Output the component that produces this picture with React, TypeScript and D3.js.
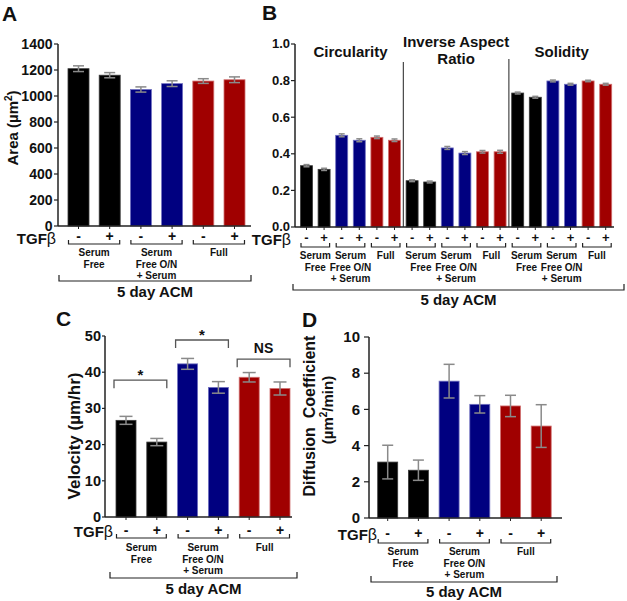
import React from "react";
import * as d3 from "d3";

const FONT = "'Liberation Sans', Arial, Helvetica, sans-serif";

// ---------- data ----------
const treatments = ["-", "+", "-", "+", "-", "+"];
const conditionLabels = [["Serum", "Free"], ["Serum", "Free O/N", "+ Serum"], ["Full"]];
const barColors = ["#000000", "#000000", "#000080", "#000080", "#a00000", "#a00000"];
const barEdges = ["#3a3a3a", "#3a3a3a", "#7070c0", "#7070c0", "#d07070", "#d07070"];

const areaTicks = [0, 200, 400, 600, 800, 1000, 1200, 1400];
const areaValues = [1210, 1160, 1050, 1095, 1115, 1125];
const areaErrors = [22, 20, 20, 22, 18, 22];

const shapeTitles = [["Circularity"], ["Inverse Aspect", "Ratio"], ["Solidity"]];
const shapeTicks = [0, 0.2, 0.4, 0.6, 0.8, 1.0];
const circularityValues = [0.335, 0.315, 0.501, 0.474, 0.49, 0.474];
const circularityErrors = [0.006, 0.006, 0.008, 0.008, 0.007, 0.007];
const inverseAspectValues = [0.253, 0.246, 0.432, 0.404, 0.411, 0.411];
const inverseAspectErrors = [0.005, 0.005, 0.008, 0.008, 0.007, 0.008];
const solidityValues = [0.732, 0.709, 0.798, 0.78, 0.798, 0.78];
const solidityErrors = [0.005, 0.005, 0.005, 0.005, 0.004, 0.005];

const velocityTicks = [0, 10, 20, 30, 40, 50];
const velocityValues = [26.7, 20.7, 42.3, 35.8, 38.6, 35.5];
const velocityErrors = [1.1, 1.0, 1.5, 1.6, 1.3, 1.8];
const velocitySig = [
  { from: 0, to: 1, label: "*", level: 37.8 },
  { from: 2, to: 3, label: "*", level: 48.9 },
  { from: 4, to: 5, label: "NS", level: 43.6 },
];

const diffusionTicks = [0, 2, 4, 6, 8, 10];
const diffusionValues = [3.09, 2.64, 7.56, 6.28, 6.19, 5.08];
const diffusionErrors = [0.93, 0.56, 0.93, 0.48, 0.59, 1.18];

// ---------- generic panel ----------
type Cfg = {
  values: number[];
  errors: number[];
  ticks: number[];
  fmt: (v: number) => string;
  max: number;
  axisX: number;
  axisEnd: number;
  yBottom: number;
  yTop: number;
  firstLeft: number;
  step: number;
  bw: number;
  tickFont: number;
  tickGap: number;
  tickLen: number;
  capW: number;
  signY: number;
  signFont: number;
  tgfEnd: number;
  tgfY: number;
  bracketY: number;
  labelY: number;
  labelLH: number;
  bigY: number;
  bigX0: number;
  bigX1: number;
  acmY: number;
};

function bandScale(c: Cfg) {
  const n = c.values.length;
  const p = 1 - c.bw / c.step;
  const o = (c.firstLeft - c.axisX) / c.step;
  return d3
    .scaleBand<string>()
    .domain(d3.range(n).map(String))
    .range([c.axisX, c.axisX + c.step * (n - p + 2 * o)])
    .paddingInner(p)
    .paddingOuter(o);
}

function Panel({ c }: { c: Cfg }) {
  const n = c.values.length;
  const x = bandScale(c);
  const y = d3.scaleLinear().domain([0, c.max]).range([c.yBottom, c.yTop]);
  const bw = x.bandwidth();
  const nGroups = n / 2;
  return (
    <g>
      {c.values.map((v, i) => (
        <rect
          key={"b" + i}
          x={x(String(i))}
          y={y(v)}
          width={bw}
          height={y(0) - y(v)}
          fill={barColors[i % 6]}
          stroke={barEdges[i % 6]}
          strokeWidth={0.8}
        />
      ))}
      {c.values.map((v, i) => {
        const cx = (x(String(i)) as number) + bw / 2;
        const lo = y(v - c.errors[i]);
        const hi = y(v + c.errors[i]);
        return (
          <g key={"e" + i} stroke="#8a8a8a" strokeWidth={1.5}>
            <line x1={cx} x2={cx} y1={lo} y2={hi} />
            <line x1={cx - c.capW / 2} x2={cx + c.capW / 2} y1={hi} y2={hi} />
            <line x1={cx - c.capW / 2} x2={cx + c.capW / 2} y1={lo} y2={lo} />
          </g>
        );
      })}
      <line x1={c.axisX} x2={c.axisX} y1={y(c.max)} y2={y(0)} stroke="#222" strokeWidth={1.5} />
      {c.ticks.map((t) => (
        <g key={"t" + t}>
          <line x1={c.axisX - c.tickLen} x2={c.axisX} y1={y(t)} y2={y(t)} stroke="#222" strokeWidth={1.2} />
          <text
            x={c.axisX - c.tickGap}
            y={y(t)}
            dy="0.34em"
            textAnchor="end"
            fontSize={c.tickFont}
            fontWeight="bold"
            fill="#111"
          >
            {c.fmt(t)}
          </text>
        </g>
      ))}
      <line x1={c.axisX} x2={c.axisEnd} y1={y(0)} y2={y(0)} stroke="#222" strokeWidth={1.5} />
      {c.values.map((v, i) => {
        const cx = (x(String(i)) as number) + bw / 2;
        return <line key={"xt" + i} x1={cx} x2={cx} y1={y(0)} y2={y(0) + 3} stroke="#222" strokeWidth={1} />;
      })}
      <text x={c.tgfEnd} y={c.tgfY} textAnchor="end" fontSize={15} fontWeight="bold" fill="#111">
        TGF<tspan fontWeight="normal" fontSize={16}>β</tspan>
      </text>
      {c.values.map((v, i) => {
        const cx = (x(String(i)) as number) + bw / 2;
        return (
          <text
            key={"s" + i}
            x={cx}
            y={c.signY}
            textAnchor="middle"
            fontSize={c.signFont}
            fontWeight="bold"
            fill="#111"
          >
            {treatments[i % 6]}
          </text>
        );
      })}
      {d3.range(nGroups).map((g) => {
        const x0 = (x(String(2 * g)) as number) + 0.5;
        const x1 = (x(String(2 * g + 1)) as number) + bw - 0.5;
        const lines = conditionLabels[g % 3];
        return (
          <g key={"g" + g}>
            <path
              d={`M${x0},${c.bracketY - 4}V${c.bracketY}H${x1}V${c.bracketY - 4}`}
              fill="none"
              stroke="#222"
              strokeWidth={1.2}
            />
            {lines.map((l, k) => (
              <text
                key={k}
                x={(x0 + x1) / 2}
                y={c.labelY + k * c.labelLH}
                textAnchor="middle"
                fontSize={10}
                fontWeight="bold"
                fill="#111"
              >
                {l}
              </text>
            ))}
          </g>
        );
      })}
      <path
        d={`M${c.bigX0},${c.bigY - 6}V${c.bigY}H${c.bigX1}V${c.bigY - 6}`}
        fill="none"
        stroke="#222"
        strokeWidth={1.2}
      />
      <text
        x={(c.bigX0 + c.bigX1) / 2}
        y={c.acmY}
        textAnchor="middle"
        fontSize={15}
        fontWeight="bold"
        fill="#111"
      >
        5 day ACM
      </text>
    </g>
  );
}

export default function App() {
  const cfgA: Cfg = {
    values: areaValues,
    errors: areaErrors,
    ticks: areaTicks,
    fmt: (v) => String(v),
    max: 1400,
    axisX: 58,
    axisEnd: 251,
    yBottom: 226,
    yTop: 44,
    firstLeft: 68,
    step: 31.2,
    bw: 21,
    tickFont: 14,
    tickGap: 5.5,
    tickLen: 4,
    capW: 11,
    signY: 241,
    signFont: 14,
    tgfEnd: 56,
    tgfY: 244,
    bracketY: 244,
    labelY: 256,
    labelLH: 11.5,
    bigY: 281,
    bigX0: 59,
    bigX1: 251,
    acmY: 297,
  };
  const shapeValues = [...circularityValues, ...inverseAspectValues, ...solidityValues];
  const shapeErrors = [...circularityErrors, ...inverseAspectErrors, ...solidityErrors];
  const cfgB: Cfg = {
    values: shapeValues,
    errors: shapeErrors,
    ticks: shapeTicks,
    fmt: (v) => v.toFixed(1),
    max: 1,
    axisX: 295,
    axisEnd: 614,
    yBottom: 227,
    yTop: 44,
    firstLeft: 300.5,
    step: 17.6,
    bw: 12,
    tickFont: 13,
    tickGap: 5,
    tickLen: 4,
    capW: 6,
    signY: 242,
    signFont: 13,
    tgfEnd: 291,
    tgfY: 245,
    bracketY: 247,
    labelY: 259,
    labelLH: 11.5,
    bigY: 290,
    bigX0: 293,
    bigX1: 624,
    acmY: 305,
  };
  const cfgC: Cfg = {
    values: velocityValues,
    errors: velocityErrors,
    ticks: velocityTicks,
    fmt: (v) => String(v),
    max: 50,
    axisX: 105,
    axisEnd: 292,
    yBottom: 517,
    yTop: 336,
    firstLeft: 116,
    step: 30.8,
    bw: 20,
    tickFont: 14.5,
    tickGap: 4,
    tickLen: 3,
    capW: 13,
    signY: 535,
    signFont: 14,
    tgfEnd: 113,
    tgfY: 537,
    bracketY: 538,
    labelY: 551,
    labelLH: 11.5,
    bigY: 578,
    bigX0: 110,
    bigX1: 297,
    acmY: 594,
  };
  const cfgD: Cfg = {
    values: diffusionValues,
    errors: diffusionErrors,
    ticks: diffusionTicks,
    fmt: (v) => String(v),
    max: 10,
    axisX: 369,
    axisEnd: 562,
    yBottom: 518,
    yTop: 337,
    firstLeft: 377.7,
    step: 30.7,
    bw: 20,
    tickFont: 15,
    tickGap: 9,
    tickLen: 5,
    capW: 11,
    signY: 538,
    signFont: 14,
    tgfEnd: 377,
    tgfY: 540,
    bracketY: 543,
    labelY: 555,
    labelLH: 11.5,
    bigY: 582,
    bigX0: 371,
    bigX1: 557,
    acmY: 597,
  };

  const xB = bandScale(cfgB);
  const yB = d3.scaleLinear().domain([0, 1]).range([cfgB.yBottom, cfgB.yTop]);
  const divTops = [62, 59];

  const xC = bandScale(cfgC);
  const yC = d3.scaleLinear().domain([0, 50]).range([cfgC.yBottom, cfgC.yTop]);

  return (
    <svg
      width={627}
      height={601}
      style={{ position: "absolute", left: 0, top: 0, background: "#fff" }}
      fontFamily={FONT}
    >
      <rect width={627} height={601} fill="#fff" />
      <text x={2} y={21} fontSize={21} fontWeight="bold" fill="#111">A</text>
      <text x={262} y={20} fontSize={21} fontWeight="bold" fill="#111">B</text>
      <text x={56} y={326} fontSize={21} fontWeight="bold" fill="#111">C</text>
      <text x={302} y={327} fontSize={21} fontWeight="bold" fill="#111">D</text>

      {/* A */}
      <Panel c={cfgA} />
      <text transform="translate(18,128) rotate(-90)" textAnchor="middle" fontSize={15} fontWeight="bold" fill="#111">
        Area (µm<tspan dy="-6" fontSize={10}>2</tspan>
        <tspan dy="6">)</tspan>
      </text>

      {/* B */}
      <Panel c={cfgB} />
      {[6, 12].map((i, k) => {
        const xd = ((xB(String(i - 1)) as number) + xB.bandwidth() + (xB(String(i)) as number)) / 2;
        return <line key={"d" + i} x1={xd} x2={xd} y1={divTops[k]} y2={yB(0)} stroke="#222" strokeWidth={1} />;
      })}
      {shapeTitles.map((lines, m) => {
        const x0 = xB(String(m * 6)) as number;
        const x1 = (xB(String(m * 6 + 5)) as number) + xB.bandwidth();
        const cx = (x0 + x1) / 2;
        const y0 = lines.length === 1 ? 57 : 47;
        return (
          <g key={"st" + m}>
            {lines.map((l, k) => (
              <text key={k} x={cx} y={y0 + k * 17} textAnchor="middle" fontSize={15} fontWeight="bold" fill="#111">
                {l}
              </text>
            ))}
          </g>
        );
      })}

      {/* C */}
      <Panel c={cfgC} />
      <text transform="translate(80,436) rotate(-90)" textAnchor="middle" fontSize={17} fontWeight="bold" fill="#111">
        Velocity (µm/hr)
      </text>
      {velocitySig.map((s, k) => {
        const x0 = (xC(String(s.from)) as number) - 2;
        const x1 = (xC(String(s.to)) as number) + xC.bandwidth();
        const yy = yC(s.level);
        return (
          <g key={"sig" + k}>
            <path d={`M${x0},${yy + 8}V${yy}H${x1}V${yy + 8}`} fill="none" stroke="#555" strokeWidth={1.3} />
            <text
              x={(x0 + x1) / 2}
              y={s.label === "*" ? yy : yy - 6}
              textAnchor="middle"
              fontSize={s.label === "*" ? 15 : 14}
              fontWeight="bold"
              fill="#111"
            >
              {s.label}
            </text>
          </g>
        );
      })}

      {/* D */}
      <Panel c={cfgD} />
      <text transform="translate(315,416) rotate(-90)" textAnchor="middle" fontSize={16} fontWeight="bold" fill="#111">
        {"Diffusion\u00a0\u00a0Coefficient"}
      </text>
      <text transform="translate(333,410) rotate(-90)" textAnchor="middle" fontSize={15} fontWeight="bold" fill="#111">
        (µm<tspan dy="-6" fontSize={10}>2</tspan>
        <tspan dy="6">/min)</tspan>
      </text>
    </svg>
  );
}
